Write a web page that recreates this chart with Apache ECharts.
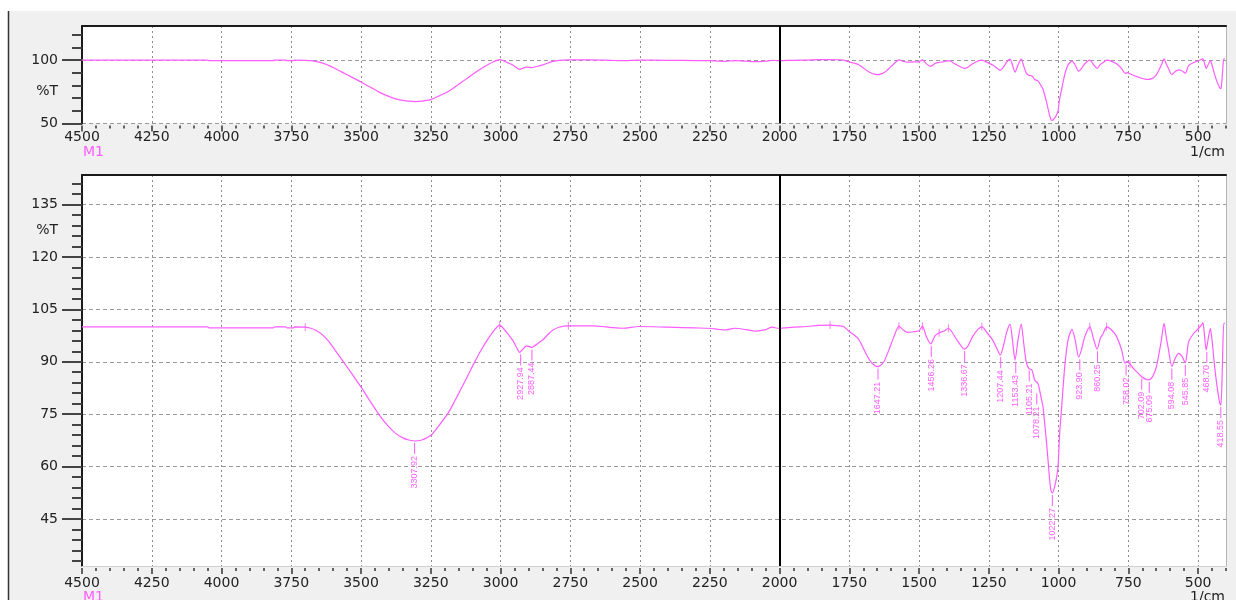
<!DOCTYPE html>
<html><head><meta charset="utf-8">
<script src="https://cdn.jsdelivr.net/npm/echarts@6/dist/echarts.min.js"></script>
<style>html,body{margin:0;padding:0;background:#fff}#c{width:1236px;height:600px}</style>
</head><body><div id="c"></div>
<script>
// ---------- DATA ----------
const wavenumbers = [4500,4300,4050,4045,3815,3810,3770,3765,3742,3738,3700,3680,3659,3635,3612,3590,3565,3535,3500,3470,3435,3405,3376,3350,3329,3305,3282,3265,3247,3220,3188,3165,3140,3115,3093,3070,3046,3025,3003,2990,2970,2955,2942,2932,2920,2908,2898,2888,2878,2862,2848,2830,2812,2790,2757,2670,2600,2563,2504,2400,2300,2254,2220,2194,2170,2158,2120,2087,2050,2027,2004,1950,1902,1860,1819,1790,1771,1752,1735,1718,1704,1690,1674,1660,1650,1638,1626,1615,1608,1590,1572,1555,1542,1520,1500,1488,1474,1458,1443,1428,1410,1395,1368,1350,1338,1325,1308,1290,1275,1254,1236,1220,1209,1198,1186,1174,1165,1156,1145,1134,1125,1116,1107,1095,1086,1074,1068,1062,1056,1050,1044,1038,1032,1027,1022,1014,1008,1002,996,987,978,966,952,940,928,918,906,888,875,862,850,840,828,810,792,774,762,754,744,732,716,702,690,678,669,660,650,642,632,622,614,606,594,582,570,558,546,534,516,498,490,483,477,471,463,456,450,442,432,422,418,413,408,404];
const transmittance = [100.0,100.0,100.0,99.7,99.7,100.0,100.0,99.7,99.7,100.0,99.9,99.6,98.9,97.5,95.5,93.0,90.2,86.8,82.8,79.0,74.8,71.8,69.5,68.2,67.6,67.3,67.6,68.2,69.1,71.8,75.3,78.6,82.5,86.4,89.9,93.3,96.4,98.8,100.5,99.6,97.6,96.0,94.0,92.7,93.6,94.5,94.4,94.1,94.6,95.5,96.3,97.8,99.1,99.9,100.3,100.3,99.8,99.6,100.1,99.9,99.7,99.6,99.3,99.1,99.5,99.6,99.2,98.8,99.2,99.9,99.6,99.9,100.1,100.4,100.5,100.3,100.1,98.8,97.8,96.6,94.6,92.3,90.1,89.0,88.6,89.0,90.0,92.0,93.4,97.2,100.2,99.0,98.4,98.6,98.9,100.2,97.2,95.1,97.4,98.3,98.8,99.6,96.7,94.6,93.6,94.5,97.2,99.2,100.0,98.1,96.2,93.6,91.9,94.5,98.5,100.8,96.0,90.5,96.5,100.8,95.3,90.0,88.1,87.6,84.8,83.8,81.9,79.5,77.2,72.5,67.6,62.0,56.2,53.0,52.4,54.3,56.5,60.0,69.6,79.1,88.6,96.3,99.3,96.0,91.3,93.5,97.2,100.0,96.6,93.6,96.8,98.1,100.0,99.1,97.2,93.4,89.6,90.1,89.3,88.1,86.8,85.7,85.1,84.8,85.2,86.2,88.4,91.5,96.0,101.0,97.0,93.4,88.6,91.0,92.4,91.6,89.7,95.7,98.1,99.6,100.3,101.2,97.5,93.4,97.0,99.6,96.2,89.6,82.9,78.1,77.6,88.6,101.0,101.0];
const peakLabelWn = [3307.92,2927.94,2887.44,1647.21,1456.26,1336.67,1207.44,1153.43,1105.21,1078.21,1022.27,923.90,860.25,758.02,702.09,675.09,594.08,545.85,468.70,418.55];
const peakLabelT  = [67.3,92.7,94.1,88.6,95.1,93.6,91.9,90.5,88.1,81.5,52.4,91.3,93.6,89.8,85.7,84.8,88.6,89.7,93.4,77.6];
const peakMarkWn = [3700,3003,2757,1819,1572,1488,1428,1395,1275,888,828,744,498];
const peakMarkT  = [99.9,100.5,100.3,100.5,100.2,100.2,98.3,99.6,100.0,100.0,100.0,89.3,99.6];
const xTickLabels = [4500,4250,4000,3750,3500,3250,3000,2750,2500,2250,2000,1750,1500,1250,1000,750,500];
const topYTickLabels = [50,100];
const bottomYTickLabels = [45,60,75,90,105,120,135];
const markerWn = 2000;

// ---------- STYLE / LAYOUT ----------
const MAG = '#ff5cff';
const TXT = '#222';
const FONT = 'DejaVu Sans';
const GL = 82, GW = 1144;
const TOP = {top: 26, height: 97.5, min: 50, max: 127, pct: 75};
const BOT = {top: 175, height: 391, min: 31.5, max: 143.5, pct: 127.5};

const lineData = wavenumbers.map((w, i) => [-w, transmittance[i]]);
const majorX = xTickLabels.map(v => -v);
const minorX = [];
for (let v = 4500; v >= 400; v -= 50) if (v % 250 !== 0) minorX.push(-v);
const topMinorY = [];
for (let v = 60; v <= 120; v += 10) if (v !== 100) topMinorY.push(v);
const botMinorY = [];
for (let v = 33; v <= 141; v += 3) if (v % 15 !== 0) botMinorY.push(v);

function xAxesFor(gi, labelMargin, bottomLine) {
  return [
    {gridIndex: gi, type: 'value', min: -4500, max: -400, interval: 250, position: 'bottom', offset: 2,
     axisLine: {show: false, onZero: false},
     axisTick: {show: true, customValues: majorX, length: 6, lineStyle: {color: '#333', width: 1.5}},
     axisLabel: {show: true, customValues: majorX, formatter: v => String(-v), margin: labelMargin,
                 color: TXT, fontFamily: FONT, fontSize: 14},
     splitLine: {show: true, lineStyle: {type: [2, 3], color: '#8c8c8c', width: 1}}},
    {gridIndex: gi, type: 'value', min: -4500, max: -400, position: 'bottom', offset: 2,
     axisLine: {show: false, onZero: false},
     axisTick: {show: true, customValues: minorX, length: 3, lineStyle: {color: '#333', width: 1.5}},
     axisLabel: {show: false}, splitLine: {show: false}},
    {gridIndex: gi, type: 'value', min: -4500, max: -400, position: 'top',
     axisLine: {show: true, onZero: false, lineStyle: {color: '#1a1a1a', width: 2}},
     axisTick: {show: false}, axisLabel: {show: false}, splitLine: {show: false}},
    {gridIndex: gi, type: 'value', min: -4500, max: -400, position: 'bottom',
     axisLine: {show: bottomLine, onZero: false, lineStyle: {color: '#d0d0d0', width: 1}},
     axisTick: {show: false}, axisLabel: {show: false}, splitLine: {show: false}}
  ];
}
function yAxesFor(gi, P, major, minor) {
  return [
    {gridIndex: gi, type: 'value', min: P.min, max: P.max, position: 'left',
     axisLine: {show: true, onZero: false, lineStyle: {color: '#1a1a1a', width: 2}},
     axisTick: {show: true, customValues: major, length: 20, lineStyle: {color: '#444', width: 2}},
     axisLabel: {show: true, customValues: major.concat([P.pct]),
                 formatter: v => (v === P.pct ? '%T' : String(v)), margin: 24,
                 color: TXT, fontFamily: FONT, fontSize: 14},
     splitLine: {show: true, lineStyle: {type: [4, 3], color: '#9a9a9a', width: 1}}},
    {gridIndex: gi, type: 'value', min: P.min, max: P.max, position: 'left',
     axisLine: {show: false, onZero: false},
     axisTick: {show: true, customValues: minor, length: 10, lineStyle: {color: '#444', width: 2}},
     axisLabel: {show: false}, splitLine: {show: false}},
    {gridIndex: gi, type: 'value', min: P.min, max: P.max, position: 'right',
     axisLine: {show: true, onZero: false, lineStyle: {color: '#b4b4b4', width: 1}},
     axisTick: {show: false}, axisLabel: {show: false}, splitLine: {show: false}}
  ];
}
function spectrum(xi, yi) {
  return {type: 'line', xAxisIndex: xi, yAxisIndex: yi, data: lineData, symbol: 'none',
          smooth: 0.25, lineStyle: {color: MAG, width: 1.2}, animation: false, z: 3,
          markLine: {silent: true, symbol: ['none', 'none'], label: {show: false}, animation: false,
                     lineStyle: {color: '#000', width: 2, type: 'solid'}, data: [{xAxis: -markerWn}]}};
}

const chart = echarts.init(document.getElementById('c'), null, {renderer: 'canvas'});
chart.setOption({
  animation: false,
  backgroundColor: '#f0f0f0',
  grid: [
    {left: GL, width: GW, top: TOP.top, height: TOP.height, show: true, backgroundColor: '#fff', borderWidth: 0, containLabel: false},
    {left: GL, width: GW, top: BOT.top, height: BOT.height, show: true, backgroundColor: '#fff', borderWidth: 0, containLabel: false}
  ],
  xAxis: xAxesFor(0, 5, false).concat(xAxesFor(1, 8, true)),
  yAxis: yAxesFor(0, TOP, topYTickLabels, topMinorY).concat(yAxesFor(1, BOT, bottomYTickLabels, botMinorY)),
  series: [
    spectrum(0, 0),
    spectrum(4, 3),
    {type: 'scatter', xAxisIndex: 4, yAxisIndex: 3, symbol: 'rect', symbolSize: [1, 8], silent: true,
     itemStyle: {color: MAG}, data: peakMarkWn.map((w, i) => [-w, peakMarkT[i]]), z: 4},
    {type: 'custom', xAxisIndex: 4, yAxisIndex: 3, silent: true, clip: false, z: 5,
     data: peakLabelWn.map((w, i) => [-w, peakLabelT[i]]),
     renderItem: (params, api) => {
       const p = api.coord([api.value(0), api.value(1)]);
       const txt = peakLabelWn[params.dataIndex].toFixed(2);
       return {type: 'group', children: [
         {type: 'line', shape: {x1: p[0], y1: p[1] + 2, x2: p[0], y2: p[1] + 13},
          style: {stroke: MAG, lineWidth: 1}},
         {type: 'text', x: p[0], y: p[1] + 15, rotation: Math.PI / 2,
          style: {text: txt, x: 0, y: 0, fill: MAG, font: '9px "Liberation Sans"',
                  align: 'right', verticalAlign: 'middle', textAlign: 'right', textVerticalAlign: 'middle'}}
       ]};
     }}
  ],
  graphic: [
    {type: 'rect', shape: {x: 0, y: 0, width: 1236, height: 11}, style: {fill: '#fff'}, silent: true},
    {type: 'rect', shape: {x: 0, y: 0, width: 8, height: 600}, style: {fill: '#fff'}, silent: true},
    {type: 'line', shape: {x1: 8.5, y1: 11, x2: 8.5, y2: 600}, style: {stroke: '#333', lineWidth: 1.5}, silent: true},
    {type: 'text', x: GL + 1, y: TOP.top + TOP.height + 22, style: {text: 'M1', fill: MAG, font: '14px "DejaVu Sans"', align: 'left', verticalAlign: 'top', textAlign: 'left', textVerticalAlign: 'top'}},
    {type: 'text', x: GL + GW - 1, y: TOP.top + TOP.height + 22, style: {text: '1/cm', fill: TXT, font: '14px "DejaVu Sans"', align: 'right', verticalAlign: 'top', textAlign: 'right', textVerticalAlign: 'top'}},
    {type: 'text', x: GL + 1, y: BOT.top + BOT.height + 24, style: {text: 'M1', fill: MAG, font: '14px "DejaVu Sans"', align: 'left', verticalAlign: 'top', textAlign: 'left', textVerticalAlign: 'top'}},
    {type: 'text', x: GL + GW - 1, y: BOT.top + BOT.height + 24, style: {text: '1/cm', fill: TXT, font: '14px "DejaVu Sans"', align: 'right', verticalAlign: 'top', textAlign: 'right', textVerticalAlign: 'top'}}
  ]
});
</script>
</body></html>
